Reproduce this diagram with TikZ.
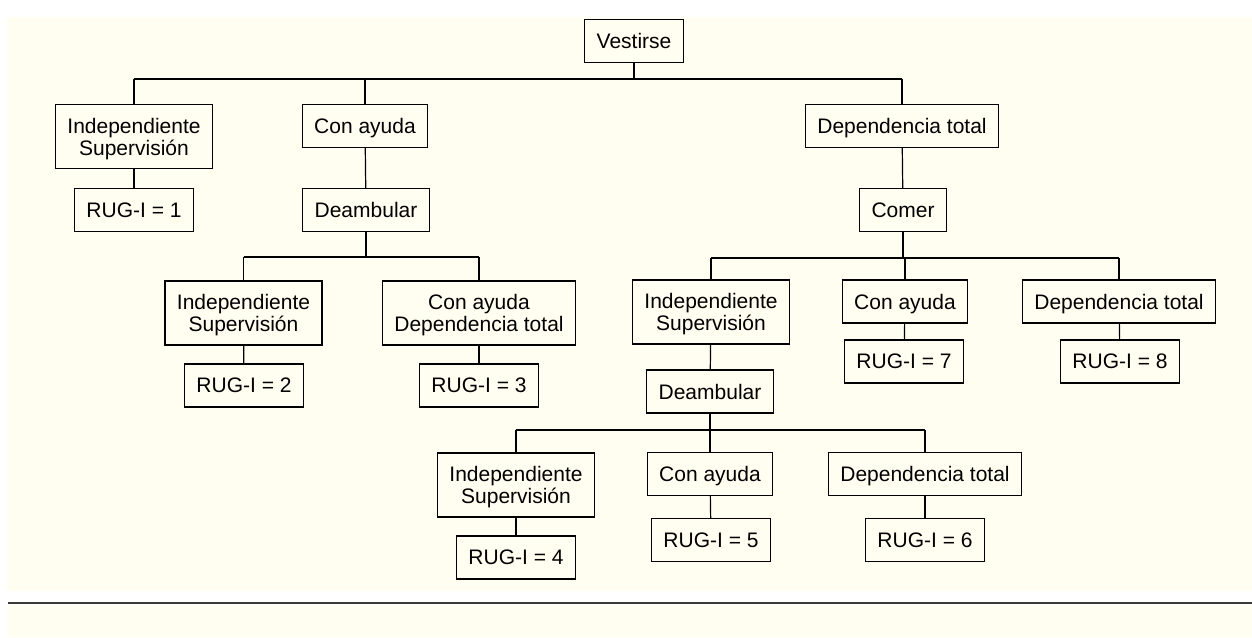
\documentclass[tikz,border=0pt]{standalone}
\usepackage{fontspec}
\setmainfont{Liberation Sans}
\definecolor{cream}{HTML}{FFFEF0}
\definecolor{rulegray}{HTML}{3A3A3A}
\begin{document}
\begin{tikzpicture}[x=1pt,y=-1pt,
  box/.style={draw, line width=1.2pt, fill=cream, inner xsep=12pt, inner ysep=0pt,
    minimum height=43pt, align=center, text depth=0pt,
    font=\fontsize{21}{22}\selectfont},
  tbox/.style={box, minimum height=64pt},
  wire/.style={line width=1.2pt}]
\useasboundingbox (0,0) rectangle (1252,637);
\fill[white] (0,0) rectangle (1252,637);
\fill[cream] (7,17) rectangle (1252,591);
\fill[cream] (7,605) rectangle (1252,637);
\draw[rulegray, line width=1.8pt] (8,603) -- (1252,603);

% nodes
\node[box] (V) at (634,41) {Vestirse};
\node[tbox] (A1) at (134,136.5) {Independiente\\Supervisión};
\node[box] (B1) at (365,126) {Con ayuda};
\node[box] (C1) at (902,126) {Dependencia total};
\node[box] (R1) at (134,210) {RUG-I = 1};
\node[box] (B1d) at (366,210) {Deambular};
\node[box] (C1c) at (903,210) {Comer};
\node[tbox] (B2a) at (243.5,313) {Independiente\\Supervisión};
\node[tbox] (B2b) at (479,313) {Con ayuda\\Dependencia total};
\node[box] (R2) at (244,385.5) {RUG-I = 2};
\node[box] (R3) at (479,385.5) {RUG-I = 3};
\node[tbox] (C2a) at (711,312) {Independiente\\Supervisión};
\node[box] (C2b) at (905,301.5) {Con ayuda};
\node[box] (C2c) at (1119,301.5) {Dependencia total};
\node[box] (R7) at (904,361.5) {RUG-I = 7};
\node[box] (R8) at (1120,361.5) {RUG-I = 8};
\node[box] (C3) at (710,391.5) {Deambular};
\node[tbox] (D1) at (516,485) {Independiente\\Supervisión};
\node[box] (D2) at (710,474) {Con ayuda};
\node[box] (D3) at (925,474) {Dependencia total};
\node[box] (R4) at (516,557.5) {RUG-I = 4};
\node[box] (R5) at (711,540) {RUG-I = 5};
\node[box] (R6) at (925,540) {RUG-I = 6};

% bus levels
\coordinate (b0) at (0,79);
\coordinate (b1) at (0,257);
\coordinate (b2) at (0,258);
\coordinate (b3) at (0,430);

% Vestirse
\draw[wire] (V.south) -- (V.south |- b0);
\draw[wire] (A1.north |- b0) -- (C1.north |- b0);
\foreach \n in {A1,B1,C1} \draw[wire] (\n.north) -- (\n.north |- b0);
\draw[wire] (A1) -- (R1);
\draw[wire] (B1) -- (B1d);
\draw[wire] (C1) -- (C1c);

% Deambular (left)
\draw[wire] (B1d.south) -- (B1d.south |- b1);
\draw[wire] (B2a.north |- b1) -- (B2b.north |- b1);
\foreach \n in {B2a,B2b} \draw[wire] (\n.north) -- (\n.north |- b1);
\draw[wire] (B2a) -- (R2);
\draw[wire] (B2b) -- (R3);

% Comer
\draw[wire] (C1c.south) -- (C1c.south |- b2);
\draw[wire] (C2a.north |- b2) -- (C2c.north |- b2);
\foreach \n in {C2a,C2b,C2c} \draw[wire] (\n.north) -- (\n.north |- b2);
\draw[wire] (C2a) -- (C3);
\draw[wire] (C2b) -- (R7);
\draw[wire] (C2c) -- (R8);

% Deambular (right)
\draw[wire] (C3.south) -- (C3.south |- b3);
\draw[wire] (D1.north |- b3) -- (D3.north |- b3);
\foreach \n in {D1,D2,D3} \draw[wire] (\n.north) -- (\n.north |- b3);
\draw[wire] (D1) -- (R4);
\draw[wire] (D2) -- (R5);
\draw[wire] (D3) -- (R6);
\end{tikzpicture}
\end{document}
